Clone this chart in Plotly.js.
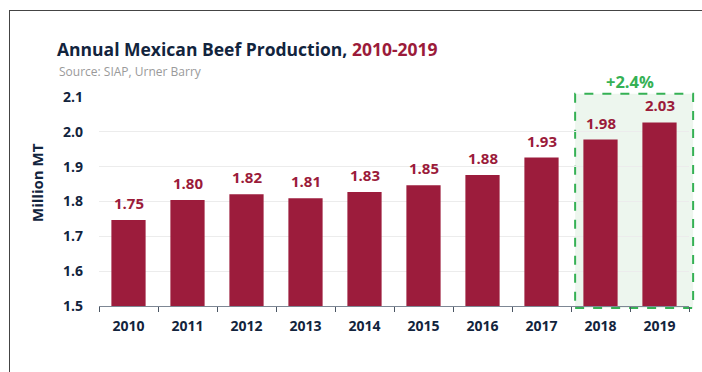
<!DOCTYPE html>
<html>
<head>
<meta charset="utf-8">
<script src="https://cdn.plot.ly/plotly-3.0.1.min.js"></script>
<style>
  html, body { margin: 0; padding: 0; background: #fff; overflow: hidden; }
  #frame { position: absolute; left: 9px; top: 10px; width: 720px; height: 400px; border: 1px solid #444; box-sizing: border-box; pointer-events: none; z-index: 5; }
  #chart { position: absolute; left: 0; top: 0; width: 702px; height: 372px; }
</style>
</head>
<body>
<div id="chart"></div>
<div id="frame"></div>
<script>
// Data
const years = ['2010','2011','2012','2013','2014','2015','2016','2017','2018','2019'];
const production = [1.747, 1.804, 1.821, 1.809, 1.827, 1.847, 1.876, 1.926, 1.978, 2.027];
const yTicks = [1.5, 1.6, 1.7, 1.8, 1.9, 2.0, 2.1];
const yTickLabels = ['1.5', '1.6', '1.7', '1.8', '1.9', '2.0', '2.1'];
const highlightYears = ['2018', '2019'];
const growthLabel = '+2.4%';

const FONT = 'Open Sans, Lato, sans-serif';
const NAVY = '#12243d';
const CRIMSON = '#9c1c3c';
const GREEN = '#35b154';

const xPos = years.map((_, i) => i);
const n = years.length;

const barTrace = {
  type: 'bar',
  x: xPos,
  y: production,
  marker: { color: CRIMSON },
  hoverinfo: 'y'
};

const valueAnnotations = xPos.map((xi, i) => ({
  x: xi, y: production[i], xref: 'x', yref: 'y',
  text: '<b>' + production[i].toFixed(2) + '</b>',
  showarrow: false, yanchor: 'bottom', yshift: 5,
  font: { family: FONT, size: 15, color: '#9b1b3a' }
}));

const firstHi = years.indexOf(highlightYears[0]);
const lastHi = years.indexOf(highlightYears[highlightYears.length - 1]);
const boxTop = 1.015;

const layout = {
  width: 702, height: 372,
  margin: { l: 99, r: 13, t: 97, b: 66 },
  paper_bgcolor: '#ffffff',
  plot_bgcolor: '#ffffff',
  bargap: 0.42,
  showlegend: false,
  font: { family: FONT, color: NAVY },
  title: {
    text: '<b>Annual Mexican Beef Production, <span style="color:#9b1b3a">2010-2019</span></b>',
    xref: 'container', yref: 'container',
    x: 57 / 702, xanchor: 'left',
    y: 1 - 50 / 372, yanchor: 'middle',
    font: { family: FONT, size: 17.5, color: NAVY }
  },
  xaxis: {
    range: [-0.5, n - 0.5],
    tickvals: xPos, ticktext: years,
    showline: true, linecolor: '#7d8794', linewidth: 1,
    ticks: '', ticklabelstandoff: 7,
    minor: { tick0: -0.5, dtick: 1, ticks: 'outside', ticklen: 5, tickcolor: '#4a5563', showgrid: false },
    showgrid: false, zeroline: false,
    tickfont: { family: FONT, size: 14, color: NAVY, weight: 'bold' },
    fixedrange: true
  },
  yaxis: {
    range: [1.5, 2.1],
    tickvals: yTicks, ticktext: yTickLabels,
    showgrid: true, gridcolor: '#ececec', gridwidth: 1,
    zeroline: false, showline: false,
    ticks: '', ticklabelstandoff: 15,
    tickfont: { family: FONT, size: 14, color: NAVY, weight: 'bold' },
    fixedrange: true
  },
  shapes: [{
    type: 'rect', layer: 'below',
    xref: 'paper', yref: 'paper',
    x0: (firstHi - 0.43 + 0.5) / n, x1: (lastHi + 0.57 + 0.5) / n,
    y0: -0.01, y1: boxTop,
    fillcolor: '#edf6ee',
    line: { color: GREEN, width: 2, dash: 'dash' }
  }],
  annotations: valueAnnotations.concat([
    {
      xref: 'paper', yref: 'paper', x: -0.071, y: 1.12,
      xanchor: 'left', yanchor: 'middle', showarrow: false,
      text: 'Source: SIAP, Urner Barry',
      font: { family: FONT, size: 12, color: '#9a9a9a' }
    },
    {
      xref: 'paper', yref: 'paper', x: (37 - 99) / 590, y: (306 - 183) / 209,
      xanchor: 'center', yanchor: 'middle', showarrow: false,
      textangle: -90,
      text: '<b>Million MT</b>',
      font: { family: FONT, size: 15, color: NAVY }
    },
    {
      xref: 'x', yref: 'paper', x: (firstHi + lastHi) / 2, y: boxTop,
      xanchor: 'center', yanchor: 'bottom', yshift: -1, showarrow: false,
      text: '<b>' + growthLabel + '</b>',
      font: { family: FONT, size: 16.5, color: GREEN }
    }
  ])
};

Plotly.newPlot('chart', [barTrace], layout, { displayModeBar: false, staticPlot: true });
</script>
</body>
</html>
